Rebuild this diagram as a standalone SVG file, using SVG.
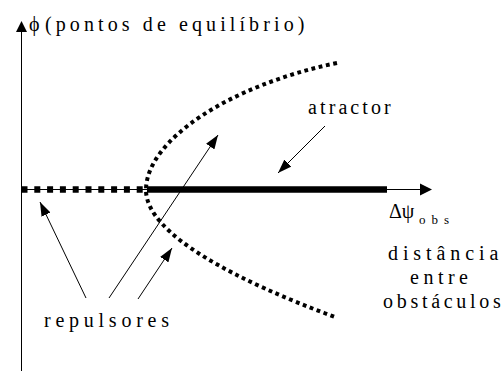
<svg xmlns="http://www.w3.org/2000/svg" width="504" height="371" viewBox="0 0 504 371">
<style>
text{font-family:"Liberation Serif","DejaVu Serif","Times New Roman",serif;fill:#000;font-size:20px}
.thin{stroke:#000;stroke-width:1;fill:none}
.call{stroke:#000;stroke-width:1;fill:none;marker-end:url(#ah)}
.dots{stroke:#000;stroke-width:4;fill:none;stroke-dasharray:3.8 3.6}
</style>
<defs>
<marker id="ah" markerUnits="userSpaceOnUse" markerWidth="14" markerHeight="10" refX="14" refY="5" orient="auto">
<path d="M0,0 L14,5 L0,10 z" fill="#000"/>
</marker>
</defs>
<g id="axes">
<line class="thin" x1="21.5" y1="371" x2="21.5" y2="31"/>
<polygon points="21.5,21 16,32 27,32" fill="#000"/>
<line class="thin" x1="21.5" y1="189.5" x2="421" y2="189.5"/>
<polygon points="432,189.5 420,183.5 420,195.5" fill="#000"/>
</g>
<g id="repulsor-branch">
<line x1="21.5" y1="189.5" x2="148" y2="189.5" stroke="#000" stroke-width="6.5" stroke-dasharray="6 6.8"/>
</g>
<g id="attractor-branch">
<line x1="147" y1="189.5" x2="387" y2="189.5" stroke="#000" stroke-width="6.5"/>
</g>
<g id="parabola">
<path class="dots" d="M337,63 C230,85 146,140 146,190 C146,235 240,282 335,317"/>
</g>
<g id="connectors">
<line class="call" x1="325" y1="126" x2="278" y2="173"/>
<line class="call" x1="86" y1="298" x2="40" y2="202"/>
<line class="call" x1="109" y1="298" x2="218" y2="135"/>
<line class="call" x1="138" y1="299" x2="172" y2="248"/>
</g>
<g id="title">
<text x="29" y="31" font-size="22" font-family="Liberation Serif, DejaVu Serif, serif">ϕ <tspan x="45" letter-spacing="4.1">(pontos de equilíbrio)</tspan></text>
</g>
<g id="atractor">
<text x="308" y="114" letter-spacing="3.1" font-family="Liberation Serif, DejaVu Serif, serif">atractor</text>
</g>
<g id="repulsores">
<text x="44" y="327" letter-spacing="4.75" font-family="Liberation Serif, DejaVu Serif, serif">repulsores</text>
</g>
<g id="axis-label">
<text x="389" y="218" font-family="Liberation Serif, DejaVu Serif, serif">Δψ<tspan x="419" dy="6" font-size="13" letter-spacing="6">obs</tspan></text>
<text x="388" y="260" letter-spacing="4.9" font-family="Liberation Serif, DejaVu Serif, serif">distância</text>
<text x="410" y="284" letter-spacing="4.5" font-family="Liberation Serif, DejaVu Serif, serif">entre</text>
<text x="383" y="308" letter-spacing="3.7" font-family="Liberation Serif, DejaVu Serif, serif">obstáculos</text>
</g>
</svg>
